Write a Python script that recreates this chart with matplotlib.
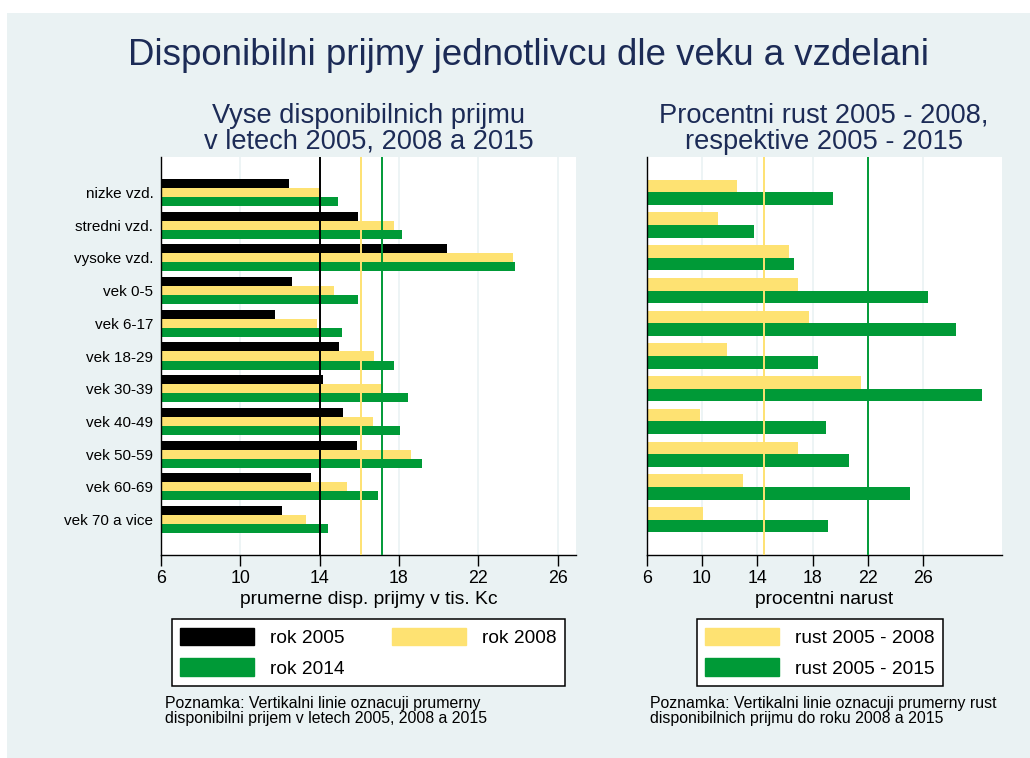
import numpy as np
import matplotlib.pyplot as plt
from matplotlib.patches import Rectangle, Patch

plt.rcParams["font.family"] = ["Liberation Sans", "DejaVu Sans"]

# categories, top to bottom
groups = ["nizke vzd.", "stredni vzd.", "vysoke vzd.", "vek 0-5", "vek 6-17",
          "vek 18-29", "vek 30-39", "vek 40-49", "vek 50-59", "vek 60-69",
          "vek 70 a vice"]

# average disposable income, thousands CZK
inc_2005 = [12.47, 15.93, 20.44, 12.61, 11.77, 14.98, 14.17, 15.20, 15.88, 13.58, 12.12]
inc_2008 = [14.08, 17.75, 23.75, 14.71, 13.85, 16.74, 17.20, 16.69, 18.61, 15.36, 13.31]
inc_2014 = [14.91, 18.14, 23.85, 15.93, 15.11, 17.73, 18.44, 18.03, 19.18, 16.96, 14.42]
mean_inc = [14.03, 16.09, 17.16]

# percentage growth
gr_2008 = [12.53, 11.16, 16.29, 16.92, 17.74, 11.78, 21.47, 9.83, 16.92, 12.96, 10.05]
gr_2015 = [19.45, 13.78, 16.67, 26.34, 28.36, 18.36, 30.25, 18.94, 20.63, 25.06, 19.13]
mean_gr = [14.46, 22.0]

xticks = [6, 10, 14, 18, 22, 26]

BG = "#eaf2f3"
NAVY = "#1c2b56"
C05 = "#000000"
C08 = "#fee272"
C14 = "#009a37"

W, H = 1030, 758
fig = plt.figure(figsize=(W / 100, H / 100), dpi=100, facecolor="white")
fig.patches.append(Rectangle((7 / W, 0), 1 - 7 / W, 1 - 13 / H,
                             transform=fig.transFigure, facecolor=BG,
                             edgecolor="none", zorder=-10))


def fpos(x0, y0, x1, y1):
    return [x0 / W, 1 - y1 / H, (x1 - x0) / W, (y1 - y0) / H]


axl = fig.add_axes(fpos(161, 157, 576, 555))
axr = fig.add_axes(fpos(646.7, 157, 1001.7, 555))

y = np.arange(len(groups))


def style(ax, xmax):
    ax.set_facecolor("white")
    ax.set_xlim(6, xmax)
    ax.set_ylim(11.08, -1.08)
    ax.set_xticks(xticks)
    ax.tick_params(axis="x", length=8, width=1, labelsize=12.8, pad=3)
    ax.tick_params(axis="y", length=0, pad=5.5, labelsize=11)
    for s in ["top", "right"]:
        ax.spines[s].set_visible(False)
    for s in ["left", "bottom"]:
        ax.spines[s].set_linewidth(1.0)
    for t in xticks[1:]:
        ax.axvline(t, color=BG, lw=1.2, zorder=0)


# left panel
h = 0.275
axl.barh(y - h, inc_2005, height=h, color=C05, zorder=2)
axl.barh(y, inc_2008, height=h, color=C08, zorder=2)
axl.barh(y + h, inc_2014, height=h, color=C14, zorder=2)
for m, c in zip(mean_inc, [C05, C08, C14]):
    axl.axvline(m, color=c, lw=1.4, zorder=3)
style(axl, 26.93)
axl.set_yticks(y)
axl.set_yticklabels(groups)
axl.set_xlabel("prumerne disp. prijmy v tis. Kc", fontsize=13.9, labelpad=3)
axl.set_title("Vyse disponibilnich prijmu\nv letech 2005, 2008 a 2015",
              fontsize=19.6, color=NAVY, pad=6, linespacing=1.0)

# right panel
h2 = 0.385
axr.barh(y - h2 / 2, gr_2008, height=h2, color=C08, zorder=2)
axr.barh(y + h2 / 2, gr_2015, height=h2, color=C14, zorder=2)
for m, c in zip(mean_gr, [C08, C14]):
    axr.axvline(m, color=c, lw=1.4, zorder=3)
style(axr, 31.67)
axr.set_yticks([])
axr.set_xlabel("procentni narust", fontsize=13.9, labelpad=3)
axr.set_title("Procentni rust 2005 - 2008,\nrespektive 2005 - 2015",
              fontsize=19.6, color=NAVY, pad=6, linespacing=1.0)

fig.text(529 / W, 1 - 65 / H, "Disponibilni prijmy jednotlivcu dle veku a vzdelani",
         ha="center", va="baseline", fontsize=26.4, color=NAVY)

# legends
leg_kw = dict(fontsize=13.8, frameon=True, fancybox=False, framealpha=1,
              borderaxespad=0, handlelength=3.85, handleheight=1.04,
              handletextpad=0.82, labelspacing=0.6, borderpad=0.45,
              bbox_transform=fig.transFigure, loc="upper left")
hl = [Patch(color=C05), Patch(color=C14), Patch(color=C08)]
lg1 = fig.legend(hl, ["rok 2005", "rok 2014", "rok 2008"], ncol=2,
                 columnspacing=2.5, bbox_to_anchor=(171.7 / W, 1 - 619 / H), **leg_kw)
hr = [Patch(color=C08), Patch(color=C14)]
lg2 = fig.legend(hr, ["rust 2005 - 2008", "rust 2005 - 2015"], ncol=1,
                 bbox_to_anchor=(696.7 / W, 1 - 619 / H), **leg_kw)
for lg in (lg1, lg2):
    lg.get_frame().set_edgecolor("black")
    lg.get_frame().set_linewidth(1.1)
    lg.get_frame().set_facecolor("white")

fig.text(165 / W, 1 - 696 / H,
         "Poznamka: Vertikalni linie oznacuji prumerny\ndisponibilni prijem v letech 2005, 2008 a 2015",
         ha="left", va="top", fontsize=11.4, linespacing=1.0)
fig.text(650 / W, 1 - 696 / H,
         "Poznamka: Vertikalni linie oznacuji prumerny rust\ndisponibilnich prijmu do roku 2008 a 2015",
         ha="left", va="top", fontsize=11.4, linespacing=1.0)

fig.savefig("out.png", dpi=100, facecolor="white")
